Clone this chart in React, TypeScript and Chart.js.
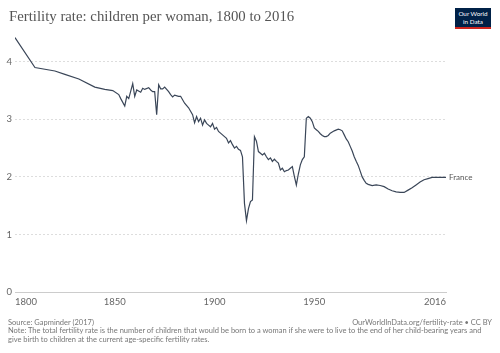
import React, { useEffect, useRef } from "react";
import { Chart, registerables } from "chart.js";
Chart.register(...registerables);

const seriesName = "France";
const years = [
  1800, 1810, 1820, 1825, 1832, 1840, 1845, 1849, 1852, 1853, 1855, 1856, 1857, 1859, 1860,
  1861, 1863, 1864, 1865, 1867, 1868, 1869, 1870, 1871, 1872, 1873, 1874, 1875, 1877, 1878,
  1879, 1880, 1882, 1883, 1885, 1887, 1888, 1889, 1890, 1891, 1892, 1893, 1894, 1895, 1896,
  1897, 1898, 1899, 1900, 1901, 1902, 1903, 1904, 1905, 1906, 1907, 1908, 1909, 1910, 1911,
  1912, 1913, 1914, 1915, 1916, 1917, 1918, 1919, 1920, 1921, 1922, 1923, 1924, 1925, 1926,
  1927, 1928, 1929, 1930, 1931, 1932, 1933, 1934, 1935, 1936, 1937, 1938, 1939, 1940, 1941,
  1942, 1943, 1944, 1945, 1946, 1947, 1948, 1949, 1950, 1951, 1952, 1953, 1954, 1955, 1956,
  1957, 1958, 1959, 1960, 1962, 1963, 1964, 1965, 1966, 1967, 1968, 1969, 1970, 1971, 1972,
  1973, 1974, 1975, 1976, 1977, 1979, 1981, 1983, 1985, 1987, 1989, 1991, 1993, 1995, 1997,
  1999, 2001, 2003, 2005, 2007, 2009, 2011, 2013, 2016,
];
const fertility = [
  4.42, 3.9, 3.84, 3.78, 3.7, 3.56, 3.52, 3.5, 3.43, 3.36, 3.23, 3.4, 3.36, 3.62, 3.4,
  3.51, 3.47, 3.54, 3.52, 3.55, 3.51, 3.48, 3.48, 3.08, 3.6, 3.53, 3.53, 3.56, 3.48, 3.43,
  3.39, 3.42, 3.4, 3.4, 3.28, 3.2, 3.14, 3.08, 2.94, 3.05, 2.96, 3.02, 2.9, 2.99, 2.93,
  2.9, 2.87, 2.93, 2.83, 2.86, 2.79, 2.76, 2.73, 2.7, 2.67, 2.59, 2.63, 2.56, 2.5, 2.53,
  2.48, 2.46, 2.35, 1.54, 1.24, 1.45, 1.57, 1.6, 2.7, 2.62, 2.44, 2.41, 2.38, 2.41, 2.35,
  2.3, 2.33, 2.27, 2.31, 2.27, 2.24, 2.12, 2.15, 2.09, 2.11, 2.12, 2.15, 2.18, 2.01, 1.86,
  2.05, 2.21, 2.3, 2.35, 3.02, 3.05, 3.02, 2.96, 2.85, 2.82, 2.79, 2.75, 2.72, 2.7, 2.7,
  2.72, 2.76, 2.78, 2.8, 2.83, 2.82, 2.8, 2.73, 2.66, 2.61, 2.53, 2.45, 2.35, 2.27, 2.2,
  2.1, 2.0, 1.94, 1.89, 1.87, 1.85, 1.86, 1.85, 1.83, 1.79, 1.76, 1.74, 1.73, 1.73, 1.77,
  1.81, 1.86, 1.91, 1.95, 1.97, 1.99, 1.99, 1.99, 1.99,
];
const xTicks = [1800, 1850, 1900, 1950, 2016];
const yTicks = [0, 1, 2, 3, 4];

const LINE = "#3a4658";
const SANS = "Lato, 'Noto Sans', sans-serif";

const endLabel = {
  id: "endLabel",
  afterDatasetsDraw(chart: any) {
    const meta = chart.getDatasetMeta(0);
    const pt = meta.data[meta.data.length - 1];
    if (!pt) return;
    const ctx = chart.ctx;
    ctx.save();
    ctx.font = `8px ${SANS}`;
    ctx.fillStyle = "#555";
    ctx.textBaseline = "middle";
    ctx.textAlign = "left";
    ctx.fillText(seriesName, pt.x + 3, pt.y);
    ctx.restore();
  },
};

export default function App() {
  const ref = useRef<HTMLCanvasElement | null>(null);
  useEffect(() => {
    if (!ref.current) return;
    const chart = new Chart(ref.current, {
      type: "line",
      data: {
        datasets: [
          {
            label: seriesName,
            data: years.map((y, i) => ({ x: y, y: fertility[i] })),
            borderColor: LINE,
            borderWidth: 1.2,
            pointRadius: 0,
            tension: 0,
            fill: false,
          },
        ],
      },
      options: {
        animation: false,
        responsive: false,
        devicePixelRatio: 1,
        layout: { padding: { left: 0, right: 54, top: 33, bottom: 41 } },
        plugins: { legend: { display: false }, tooltip: { enabled: false }, title: { display: false } },
        scales: {
          x: {
            type: "linear",
            min: 1800,
            max: 2016,
            afterBuildTicks: (s: any) => {
              s.ticks = xTicks.map((v) => ({ value: v }));
            },
            afterFit: (s: any) => {
              s.height = 20;
            },
            grid: { display: false, drawTicks: false },
            border: { display: true, color: "#ccc", width: 1 },
            ticks: {
              align: "inner",
              autoSkip: false,
              maxRotation: 0,
              padding: 4,
              color: "#666",
              font: { family: SANS, size: 9.5 },
              callback: (v: any) => String(v),
            },
          },
          y: {
            min: 0,
            max: 4.5,
            afterBuildTicks: (s: any) => {
              s.ticks = yTicks.map((v) => ({ value: v }));
            },
            afterFit: (s: any) => {
              s.width = 15;
            },
            grid: {
              drawTicks: false,
              color: (c: any) => (c.tick && c.tick.value === 0 ? "rgba(0,0,0,0)" : "#ddd"),
              lineWidth: 1,
            },
            border: { display: false, dash: [2, 2] },
            ticks: {
              padding: 3,
              color: "#666",
              font: { family: SANS, size: 9.5 },
              callback: (v: any) => String(v),
            },
          },
        },
      },
      plugins: [endLabel],
    } as any);
    return () => chart.destroy();
  }, []);

  return (
    <div style={{ position: "absolute", left: 0, top: 0, width: 500, height: 353, background: "#fff" }}>
      <canvas ref={ref} width={500} height={353} style={{ position: "absolute", left: 0, top: 0, width: 500, height: 353 }} />
      <div
        style={{
          position: "absolute",
          left: 9,
          top: 6,
          fontFamily: "'Liberation Serif', 'DejaVu Serif', serif",
          fontSize: 14.8,
          color: "#555",
          whiteSpace: "nowrap",
          lineHeight: "20px",
        }}
      >
        Fertility rate: children per woman, 1800 to 2016
      </div>
      <div
        style={{
          position: "absolute",
          left: 455,
          top: 8,
          width: 36,
          height: 21,
          background: "#002147",
          borderBottom: "2px solid #ce261e",
          boxSizing: "border-box",
          color: "#fff",
          fontFamily: SANS,
          fontSize: 6.3,
          lineHeight: "7.5px",
          textAlign: "center",
          paddingTop: 2,
        }}
      >
        Our World
        <br />
        in Data
      </div>
      <div
        style={{
          position: "absolute",
          left: 8,
          top: 318,
          fontFamily: SANS,
          fontSize: 7.5,
          color: "#777",
          whiteSpace: "nowrap",
          lineHeight: "9px",
        }}
      >
        Source: Gapminder (2017)
      </div>
      <div
        style={{
          position: "absolute",
          right: 8,
          top: 318,
          fontFamily: SANS,
          fontSize: 7.5,
          color: "#777",
          whiteSpace: "nowrap",
          lineHeight: "9px",
        }}
      >
        OurWorldInData.org/fertility-rate • CC BY
      </div>
      <div
        style={{
          position: "absolute",
          left: 8,
          top: 327,
          width: 480,
          fontFamily: SANS,
          fontSize: 7.5,
          color: "#777",
          lineHeight: "8.5px",
        }}
      >
        Note: The total fertility rate is the number of children that would be born to a woman if she were to live to the end of her child-bearing years and give birth to children at the current age-specific fertility rates.
      </div>
    </div>
  );
}
